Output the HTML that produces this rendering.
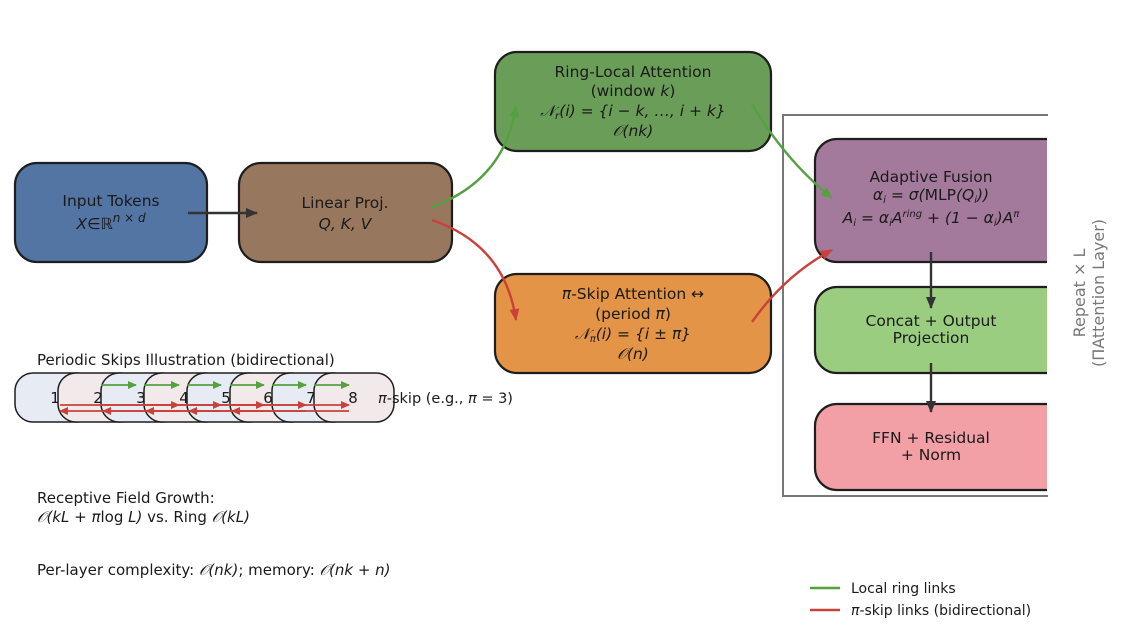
<!DOCTYPE html>
<html><head><meta charset="utf-8"><style>
html,body{margin:0;padding:0;background:#fff;}
svg{display:block;font-family:"DejaVu Sans","Liberation Sans",sans-serif;}
.t{font-size:15.5px;fill:#1a1a1a;text-anchor:middle;}
.i{font-style:italic;}
.l{font-size:15px;fill:#1a1a1a;}
</style></head><body>
<svg width="1136" height="642" viewBox="0 0 1136 642" xmlns="http://www.w3.org/2000/svg">
<defs>
<marker id="ak" markerWidth="14" markerHeight="14" refX="11" refY="6" orient="auto" markerUnits="userSpaceOnUse"><path d="M0,1 L12,6 L0,11 z" fill="#333"/></marker>
<marker id="ag" markerWidth="14" markerHeight="14" refX="11" refY="6" orient="auto" markerUnits="userSpaceOnUse"><path d="M0,1 L12,6 L0,11 z" fill="#55a040"/></marker>
<marker id="ar" markerWidth="14" markerHeight="14" refX="11" refY="6" orient="auto" markerUnits="userSpaceOnUse"><path d="M0,1 L12,6 L0,11 z" fill="#c8423a"/></marker>
<marker id="sg" markerWidth="10" markerHeight="10" refX="8" refY="5" orient="auto" markerUnits="userSpaceOnUse"><path d="M0,1 L9,5 L0,9 z" fill="#55a040"/></marker>
<marker id="sr" markerWidth="10" markerHeight="10" refX="8" refY="5" orient="auto" markerUnits="userSpaceOnUse"><path d="M0,1 L9,5 L0,9 z" fill="#c8423a"/></marker>
<clipPath id="cp"><rect x="0" y="0" width="1047" height="642"/></clipPath>
</defs>

<path d="M1048,115 L783,115 L783,496 L1048,496" fill="none" stroke="#777" stroke-width="2"/>
<text transform="translate(1092,293) rotate(-90)" text-anchor="middle" font-size="16" fill="#777"><tspan x="0" y="-7">Repeat × L</tspan><tspan x="0" y="12">(ΠAttention Layer)</tspan></text>

<rect x="15" y="163" width="192" height="99" rx="22" fill="#5275a4" stroke="#1e1e1e" stroke-width="2.2"/>
<text class="t" x="111" y="206" font-size="17.5">Input Tokens</text>
<text class="t i" x="111" y="229" font-size="17.5">X∈ℝ<tspan font-size="12" dy="-7">n × d</tspan></text>

<rect x="239" y="163" width="213" height="99" rx="22" fill="#98775f" stroke="#1e1e1e" stroke-width="2.2"/>
<text class="t" x="345" y="208" font-size="17">Linear Proj.</text>
<text class="t i" x="345" y="229" font-size="17">Q, K, V</text>

<rect x="495" y="52" width="276" height="99" rx="22" fill="#6a9e58" stroke="#1e1e1e" stroke-width="2.2"/>
<text class="t" x="633" y="77">Ring-Local Attention</text>
<text class="t" x="633" y="96">(window <tspan class="i">k</tspan>)</text>
<text class="t i" x="633" y="116">𝒩<tspan font-size="10" dy="3">r</tspan><tspan dy="-3">(i) = {i − k, …, i + k}</tspan></text>
<text class="t i" x="633" y="136">𝒪(nk)</text>

<rect x="495" y="274" width="276" height="99" rx="22" fill="#e49446" stroke="#1e1e1e" stroke-width="2.2"/>
<text class="t" x="633" y="299"><tspan class="i">π</tspan>-Skip Attention ↔</text>
<text class="t" x="633" y="319">(period <tspan class="i">π</tspan>)</text>
<text class="t i" x="633" y="339">𝒩<tspan font-size="10" dy="3">π</tspan><tspan dy="-3">(i) = {i ± π}</tspan></text>
<text class="t i" x="633" y="359">𝒪(n)</text>

<g clip-path="url(#cp)">
<rect x="815" y="139" width="260" height="123" rx="22" fill="#a47a9c" stroke="#1e1e1e" stroke-width="2.2"/>
<rect x="815" y="287" width="260" height="86" rx="22" fill="#9bcd81" stroke="#1e1e1e" stroke-width="2.2"/>
<rect x="815" y="404" width="260" height="86" rx="22" fill="#f29fa6" stroke="#1e1e1e" stroke-width="2.2"/>
</g>
<text class="t" x="931" y="182">Adaptive Fusion</text>
<text class="t i" x="931" y="200">α<tspan font-size="10" dy="3">i</tspan><tspan dy="-3"> = σ(</tspan><tspan font-style="normal">MLP</tspan>(Q<tspan font-size="10" dy="3">i</tspan><tspan dy="-3">))</tspan></text>
<text class="t i" x="931" y="223">A<tspan font-size="10" dy="3">i</tspan><tspan dy="-3"> = α</tspan><tspan font-size="10" dy="3">i</tspan><tspan dy="-3">A</tspan><tspan font-size="10" dy="-6">ring</tspan><tspan dy="6"> + (1 − α</tspan><tspan font-size="10" dy="3">i</tspan><tspan dy="-3">)A</tspan><tspan font-size="10" dy="-6">π</tspan></text>
<text class="t" x="931" y="326">Concat + Output</text>
<text class="t" x="931" y="343">Projection</text>
<text class="t" x="931" y="443">FFN + Residual</text>
<text class="t" x="931" y="460">+ Norm</text>

<line x1="188" y1="213" x2="257" y2="213" stroke="#333" stroke-width="2.4" marker-end="url(#ak)"/>
<path d="M432,207 Q505,180 516,106" fill="none" stroke="#55a040" stroke-width="2.4" marker-end="url(#ag)"/>
<path d="M432,220 Q505,245 516,320" fill="none" stroke="#c8423a" stroke-width="2.4" marker-end="url(#ar)"/>
<path d="M752,104 Q785,160 832,198" fill="none" stroke="#55a040" stroke-width="2.4" marker-end="url(#ag)"/>
<path d="M752,322 Q785,275 832,250" fill="none" stroke="#c8423a" stroke-width="2.4" marker-end="url(#ar)"/>
<line x1="931" y1="252" x2="931" y2="308" stroke="#333" stroke-width="2.4" marker-end="url(#ak)"/>
<line x1="931" y1="363" x2="931" y2="412" stroke="#333" stroke-width="2.4" marker-end="url(#ak)"/>

<text class="l" x="37" y="365">Periodic Skips Illustration (bidirectional)</text>
<g stroke="#1e1e1e" stroke-width="1.5" font-size="15" fill="#1a1a1a" text-anchor="middle">
<rect x="15" y="373" width="80" height="49" rx="18" fill="#e6ebf4"/><text stroke="none" x="55" y="403">1</text>
<rect x="58" y="373" width="80" height="49" rx="18" fill="#f2eaea"/><text stroke="none" x="98" y="403">2</text>
<rect x="101" y="373" width="80" height="49" rx="18" fill="#e6ebf4"/><text stroke="none" x="141" y="403">3</text>
<rect x="144" y="373" width="80" height="49" rx="18" fill="#f2eaea"/><text stroke="none" x="184" y="403">4</text>
<rect x="187" y="373" width="80" height="49" rx="18" fill="#e6ebf4"/><text stroke="none" x="226" y="403">5</text>
<rect x="230" y="373" width="80" height="49" rx="18" fill="#f2eaea"/><text stroke="none" x="268" y="403">6</text>
<rect x="272" y="373" width="80" height="49" rx="18" fill="#e6ebf4"/><text stroke="none" x="311" y="403">7</text>
<rect x="314" y="373" width="80" height="49" rx="18" fill="#f2eaea"/><text stroke="none" x="353" y="403">8</text>
</g>
<text x="378" y="403" font-size="14.5" fill="#1a1a1a"><tspan class="i">π</tspan>-skip (e.g., <tspan class="i">π</tspan> = 3)</text>
<g stroke="#55a040" stroke-width="1.8">
<line x1="101" y1="385" x2="136" y2="385" marker-end="url(#sg)"/>
<line x1="144" y1="385" x2="179" y2="385" marker-end="url(#sg)"/>
<line x1="187" y1="385" x2="221" y2="385" marker-end="url(#sg)"/>
<line x1="230" y1="385" x2="264" y2="385" marker-end="url(#sg)"/>
<line x1="272" y1="385" x2="306" y2="385" marker-end="url(#sg)"/>
<line x1="314" y1="385" x2="349" y2="385" marker-end="url(#sg)"/>
</g>
<g stroke="#c8423a" stroke-width="1.8">
<line x1="60" y1="405" x2="179" y2="405" marker-end="url(#sr)"/>
<line x1="100" y1="405" x2="221" y2="405" marker-end="url(#sr)"/>
<line x1="145" y1="405" x2="264" y2="405" marker-end="url(#sr)"/>
<line x1="190" y1="405" x2="306" y2="405" marker-end="url(#sr)"/>
<line x1="230" y1="405" x2="349" y2="405" marker-end="url(#sr)"/>
<line x1="179" y1="411" x2="60" y2="411" marker-end="url(#sr)"/>
<line x1="221" y1="411" x2="103" y2="411" marker-end="url(#sr)"/>
<line x1="264" y1="411" x2="146" y2="411" marker-end="url(#sr)"/>
<line x1="306" y1="411" x2="189" y2="411" marker-end="url(#sr)"/>
<line x1="349" y1="411" x2="232" y2="411" marker-end="url(#sr)"/>
</g>

<text class="l" x="37" y="503">Receptive Field Growth:</text>
<text class="l" x="37" y="522"><tspan class="i">𝒪(kL + π</tspan>log<tspan class="i"> L)</tspan> vs. Ring <tspan class="i">𝒪(kL)</tspan></text>
<text class="l" x="37" y="575">Per-layer complexity: <tspan class="i">𝒪(nk)</tspan>; memory: <tspan class="i">𝒪(nk + n)</tspan></text>

<line x1="810" y1="588" x2="840" y2="588" stroke="#55a040" stroke-width="2.5"/>
<text x="851" y="593" font-size="14" fill="#1a1a1a">Local ring links</text>
<line x1="810" y1="610" x2="840" y2="610" stroke="#c8423a" stroke-width="2.5"/>
<text x="851" y="615" font-size="14" fill="#1a1a1a"><tspan class="i">π</tspan>-skip links (bidirectional)</text>
</svg>
</body></html>
